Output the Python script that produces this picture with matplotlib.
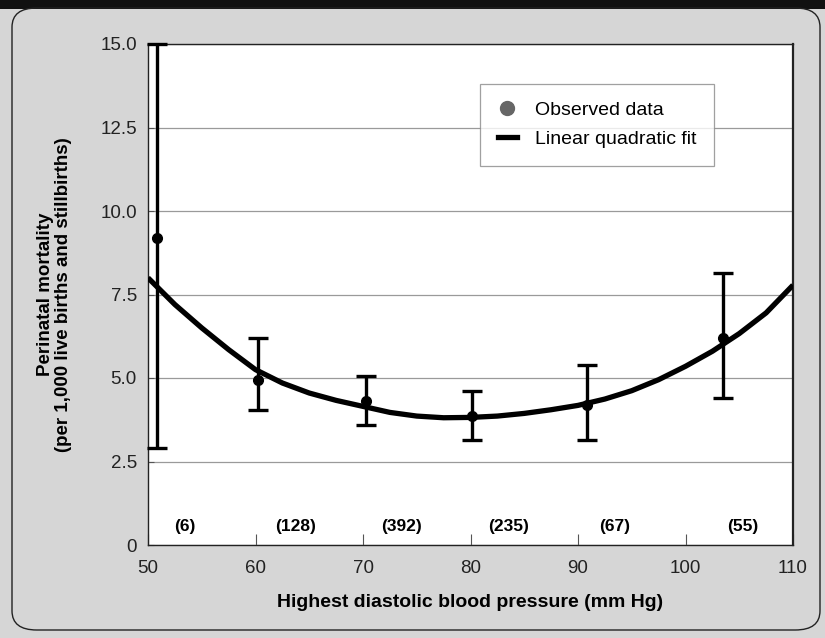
#!/usr/bin/env python3
"""Perinatal mortality vs highest diastolic blood pressure (scanned figure redraw)."""

import matplotlib
matplotlib.use("Agg")
import matplotlib.pyplot as plt
from matplotlib.patches import FancyBboxPatch, Rectangle

# observed data (mean + error bar ends)
bp_obs = [50.8, 60.2, 70.3, 80.1, 90.8, 103.5]
mort_obs = [9.2, 4.95, 4.3, 3.85, 4.2, 6.2]
err_lo = [2.9, 4.05, 3.6, 3.15, 3.15, 4.4]
err_hi = [15.0, 6.2, 5.05, 4.6, 5.4, 8.15]

# fitted curve
bp_fit = [50, 52.5, 55, 57.5, 60, 62.5, 65, 67.5, 70, 72.5, 75, 77.5, 80,
          82.5, 85, 87.5, 90, 92.5, 95, 97.5, 100, 102.5, 105, 107.5, 110]
mort_fit = [8.0, 7.2, 6.5, 5.85, 5.25, 4.85, 4.55, 4.33, 4.15, 3.97, 3.86,
            3.81, 3.82, 3.86, 3.94, 4.05, 4.18, 4.37, 4.62, 4.95, 5.35,
            5.8, 6.33, 6.95, 7.78]

# sample sizes per band
n_x = [53.4, 63.7, 73.6, 83.5, 93.4, 105.3]
n_labels = ["(6)", "(128)", "(392)", "(235)", "(67)", "(55)"]

y_ticks = [0, 2.5, 5.0, 7.5, 10.0, 12.5, 15.0]
y_ticklabels = ["0", "2.5", "5.0", "7.5", "10.0", "12.5", "15.0"]
x_ticks = [50, 60, 70, 80, 90, 100, 110]

BG = "#d6d6d6"
NARROW = ["Liberation Sans Narrow", "Liberation Sans", "DejaVu Sans"]
plt.rcParams["font.family"] = ["Liberation Sans", "DejaVu Sans"]

fig = plt.figure(figsize=(8.25, 6.38), dpi=100)
fig.patch.set_facecolor(BG)

# black band at top + rounded frame
fig.patches.append(Rectangle((0, 1 - 9 / 638), 1, 9 / 638, transform=fig.transFigure,
                             facecolor="#111111", edgecolor="none", zorder=0))
fig.patches.append(FancyBboxPatch((12 / 825, 8 / 638), 808 / 825, 622 / 638,
                                  boxstyle="round,pad=0,rounding_size=0.03",
                                  transform=fig.transFigure, facecolor="none",
                                  edgecolor="#222222", linewidth=1.0, zorder=0))

ax = fig.add_axes([148 / 825, 93 / 638, 645 / 825, 501 / 638])
ax.set_facecolor("white")

ax.plot(bp_fit, mort_fit, color="black", linewidth=3.8, solid_capstyle="butt",
        solid_joinstyle="round", zorder=3, label="Linear quadratic fit")
yerr = [[m - lo for m, lo in zip(mort_obs, err_lo)],
        [hi - m for m, hi in zip(mort_obs, err_hi)]]
ax.errorbar(bp_obs, mort_obs, yerr=yerr, fmt="o", color="black", markersize=7,
            elinewidth=2.4, capsize=7, capthick=2.4, zorder=4, clip_on=False)

for x, s in zip(n_x, n_labels):
    ax.text(x, 0.55, s, ha="center", va="center", fontsize=12.5,
            fontweight="bold", family=NARROW)

ax.set_xlim(50, 110)
ax.set_ylim(0, 15)
ax.set_xticks(x_ticks)
ax.set_yticks(y_ticks)
ax.set_yticklabels(y_ticklabels)
ax.tick_params(axis="both", labelsize=13.5, direction="in", color="#555555",
               width=0.8, labelcolor="#222222")
ax.tick_params(axis="x", length=8, pad=11)
ax.tick_params(axis="y", length=4, pad=8)
ax.grid(True, axis="y", color="#9a9a9a", linewidth=0.9)
ax.set_axisbelow(True)
for sp in ax.spines.values():
    sp.set_color("#222222")
    sp.set_linewidth(1.0)
ax.spines["right"].set_linewidth(1.6)

ax.set_xlabel("Highest diastolic blood pressure (mm Hg)", fontsize=14,
              fontweight="bold", family=NARROW, labelpad=12)
ax.set_ylabel("Perinatal mortality\n(per 1,000 live births and stillbirths)",
              fontsize=13.5, fontweight="bold", family=NARROW, labelpad=20,
              linespacing=1.1)

obs_handle = plt.Line2D([], [], linestyle="none", marker="o", markersize=10,
                        color="#666666")
fit_handle = plt.Line2D([], [], color="black", linewidth=3.8)
leg = ax.legend([obs_handle, fit_handle], ["Observed data", "Linear quadratic fit"],
                loc="upper left", bbox_to_anchor=(0.5, 0.94), fontsize=14,
                fancybox=False, frameon=True, handlelength=1.0,
                borderpad=0.9, labelspacing=0.6, handletextpad=0.9)
leg.get_frame().set_edgecolor("#888888")
leg.get_frame().set_linewidth(0.9)

fig.savefig("out.png", dpi=100, facecolor=fig.get_facecolor())
